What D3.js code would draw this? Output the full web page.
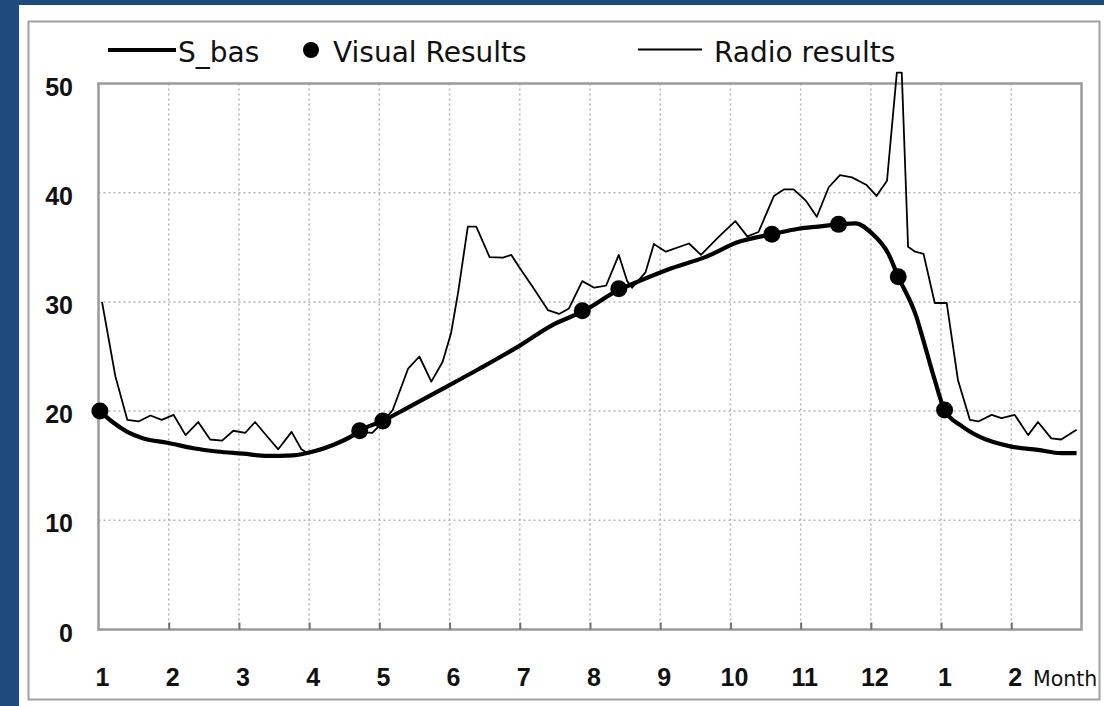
<!DOCTYPE html>
<html>
<head>
<meta charset="utf-8">
<script src="https://cdn.jsdelivr.net/npm/d3@7"></script>
<style>
  html, body { margin: 0; padding: 0; background: #1f4a7d; }
  svg { display: block; }
</style>
</head>
<body>
<svg id="chart" width="1104" height="706"></svg>
<script>
// ---- data (month index: 0 = start of Jan, 14 = end of Feb next year) ----
const monthTicks = [0,1,2,3,4,5,6,7,8,9,10,11,12,13];
const monthLabels = ["1","2","3","4","5","6","7","8","9","10","11","12","1","2"];
const yTicks = [0,10,20,30,40,50];

const sBasMonth = [0.02,0.2,0.41,0.64,0.98,1.35,1.69,2.06,2.4,2.77,3.06,3.34,3.63,3.72,4.05,4.4,4.86,5.43,6.0,6.47,6.89,7.41,7.7,8.17,8.64,9.12,9.59,9.97,10.25,10.54,10.78,11.01,11.25,11.39,11.65,11.72,11.91,12.05,12.3,12.53,13.0,13.38,13.71,13.93];
const sBasValue = [20.0,19.0,18.1,17.5,17.1,16.6,16.3,16.1,15.9,15.95,16.3,16.9,17.8,18.2,19.1,20.3,21.9,23.9,26.0,27.9,29.1,31.1,31.9,33.1,34.1,35.5,36.2,36.7,36.9,37.1,37.2,36.3,34.4,32.3,28.6,27.1,22.85,20.1,18.6,17.7,16.75,16.45,16.15,16.15];

const radioMonth = [0.05,0.24,0.41,0.57,0.74,0.90,1.07,1.24,1.42,1.59,1.76,1.92,2.09,2.23,2.40,2.56,2.75,2.89,2.96,3.34,3.63,3.72,3.9,4.05,4.19,4.41,4.57,4.74,4.90,5.02,5.12,5.26,5.38,5.57,5.76,5.88,5.99,6.18,6.40,6.56,6.70,6.89,7.06,7.23,7.41,7.53,7.60,7.79,7.91,8.08,8.41,8.58,8.84,9.07,9.24,9.40,9.62,9.76,9.90,10.07,10.23,10.40,10.56,10.73,10.94,11.08,11.23,11.37,11.44,11.53,11.63,11.75,11.91,12.08,12.24,12.41,12.53,12.72,12.86,13.05,13.24,13.38,13.57,13.71,13.93];
const radioValue = [30.0,23.2,19.2,19.05,19.6,19.2,19.65,17.8,19.0,17.4,17.3,18.2,18.0,19.0,17.7,16.5,18.1,16.5,16.2,16.9,17.8,18.1,18.0,19.0,20.1,23.9,25.0,22.7,24.5,27.1,30.8,36.9,36.9,34.1,34.05,34.3,33.2,31.4,29.25,28.9,29.4,31.9,31.3,31.5,34.3,31.9,31.3,32.7,35.3,34.6,35.35,34.3,36.0,37.4,36.0,36.4,39.7,40.3,40.3,39.3,37.8,40.5,41.6,41.4,40.7,39.7,41.1,51.0,51.0,35.05,34.6,34.4,29.9,29.9,22.85,19.2,19.05,19.65,19.35,19.65,17.8,19.0,17.5,17.4,18.3];

const visualMonth = [0.02,3.72,4.05,6.89,7.41,9.59,10.54,11.39,12.05];
const visualValue = [20.0,18.2,19.1,29.2,31.2,36.2,37.1,32.3,20.1];

// ---- layout ----
const svg = d3.select("#chart");
const pLeft = 98.5, pRight = 1081.5, pTop = 83.5, pBottom = 629.5;

svg.append("rect").attr("x", 19).attr("y", 5).attr("width", 1085).attr("height", 701).attr("fill", "#ffffff");
svg.append("rect").attr("x", 28.5).attr("y", 21.5).attr("width", 1071).attr("height", 678)
   .attr("fill", "none").attr("stroke", "#a0a0a0").attr("stroke-width", 2);

const x = d3.scaleLinear().domain([0, 14]).range([pLeft, pRight]);
const y = d3.scaleLinear().domain([0, 50]).range([pBottom, pTop]);

const defs = svg.append("defs");
defs.append("clipPath").attr("id", "clip").append("rect")
  .attr("x", pLeft).attr("y", 60).attr("width", pRight - pLeft).attr("height", pBottom - 60);

// grid
const grid = svg.append("g");
grid.append("g").selectAll("line").data(yTicks.filter(d => d > 0 && d < 50)).join("line")
  .attr("x1", pLeft).attr("x2", pRight).attr("y1", d => y(d)).attr("y2", d => y(d))
  .attr("stroke", "#b4b4b4").attr("stroke-width", 1.5).attr("stroke-dasharray", "2,3");
grid.append("g").selectAll("line").data(monthTicks.filter(d => d > 0)).join("line")
  .attr("x1", d => x(d)).attr("x2", d => x(d)).attr("y1", pTop).attr("y2", pBottom)
  .attr("stroke", "#b4b4b4").attr("stroke-width", 1.5).attr("stroke-dasharray", "2,3");

// frame
svg.append("rect").attr("x", pLeft).attr("y", pTop).attr("width", pRight - pLeft).attr("height", pBottom - pTop)
  .attr("fill", "none").attr("stroke", "#9a9a9a").attr("stroke-width", 2.5);

// bottom axis ticks (inside)
const xAxis = d3.axisBottom(x).tickValues(monthTicks.filter(d => d > 0)).tickSizeInner(-7).tickSizeOuter(0).tickFormat("");
const gx = svg.append("g").attr("transform", `translate(0,${pBottom})`).call(xAxis);
gx.select(".domain").remove();
gx.selectAll(".tick line").attr("stroke", "#707070").attr("stroke-width", 2);

// x labels
svg.append("g").selectAll("text").data(monthTicks).join("text")
  .attr("x", d => x(d) + 4).attr("y", 686)
  .attr("text-anchor", "middle")
  .attr("font-family", "'Liberation Sans', Arial, sans-serif")
  .attr("font-size", 25).attr("font-weight", "bold").attr("fill", "#111")
  .text((d, i) => monthLabels[i]);
svg.append("text").attr("x", 1033).attr("y", 686)
  .attr("font-family", "'DejaVu Sans', Verdana, sans-serif").attr("font-size", 20.5).attr("fill", "#111")
  .text("Month");

// y labels
svg.append("g").selectAll("text").data(yTicks).join("text")
  .attr("x", 73).attr("y", d => y(d) + 12)
  .attr("text-anchor", "end")
  .attr("font-family", "'Liberation Sans', Arial, sans-serif")
  .attr("font-size", 25).attr("font-weight", "bold").attr("fill", "#111")
  .text(d => d);

const plot = svg.append("g").attr("clip-path", "url(#clip)");

const sBas = sBasMonth.map((m, i) => [m, sBasValue[i]]);
const radio = radioMonth.map((m, i) => [m, radioValue[i]]);
const visual = visualMonth.map((m, i) => [m, visualValue[i]]);

plot.append("path").datum(radio)
  .attr("d", d3.line().x(d => x(d[0])).y(d => y(d[1])))
  .attr("fill", "none").attr("stroke", "#000").attr("stroke-width", 1.8).attr("stroke-linejoin", "round");

plot.append("path").datum(sBas)
  .attr("d", d3.line().x(d => x(d[0])).y(d => y(d[1])).curve(d3.curveMonotoneX))
  .attr("fill", "none").attr("stroke", "#000").attr("stroke-width", 4.2).attr("stroke-linejoin", "round");

svg.append("g").selectAll("circle").data(visual).join("circle")
  .attr("cx", d => x(d[0])).attr("cy", d => y(d[1])).attr("r", 8.5).attr("fill", "#000");

// legend
const lg = svg.append("g").attr("font-family", "'DejaVu Sans', Verdana, sans-serif").attr("font-size", 28).attr("fill", "#111");
lg.append("line").attr("x1", 108).attr("x2", 176).attr("y1", 50).attr("y2", 50).attr("stroke", "#000").attr("stroke-width", 4.2);
lg.append("text").attr("x", 178).attr("y", 62).text("S_bas");
lg.append("circle").attr("cx", 311).attr("cy", 50).attr("r", 8).attr("fill", "#000");
lg.append("text").attr("x", 333).attr("y", 62).text("Visual Results");
lg.append("line").attr("x1", 638).attr("x2", 702).attr("y1", 49.5).attr("y2", 49.5).attr("stroke", "#000").attr("stroke-width", 1.8);
lg.append("text").attr("x", 714).attr("y", 62).text("Radio results");
</script>
</body>
</html>
